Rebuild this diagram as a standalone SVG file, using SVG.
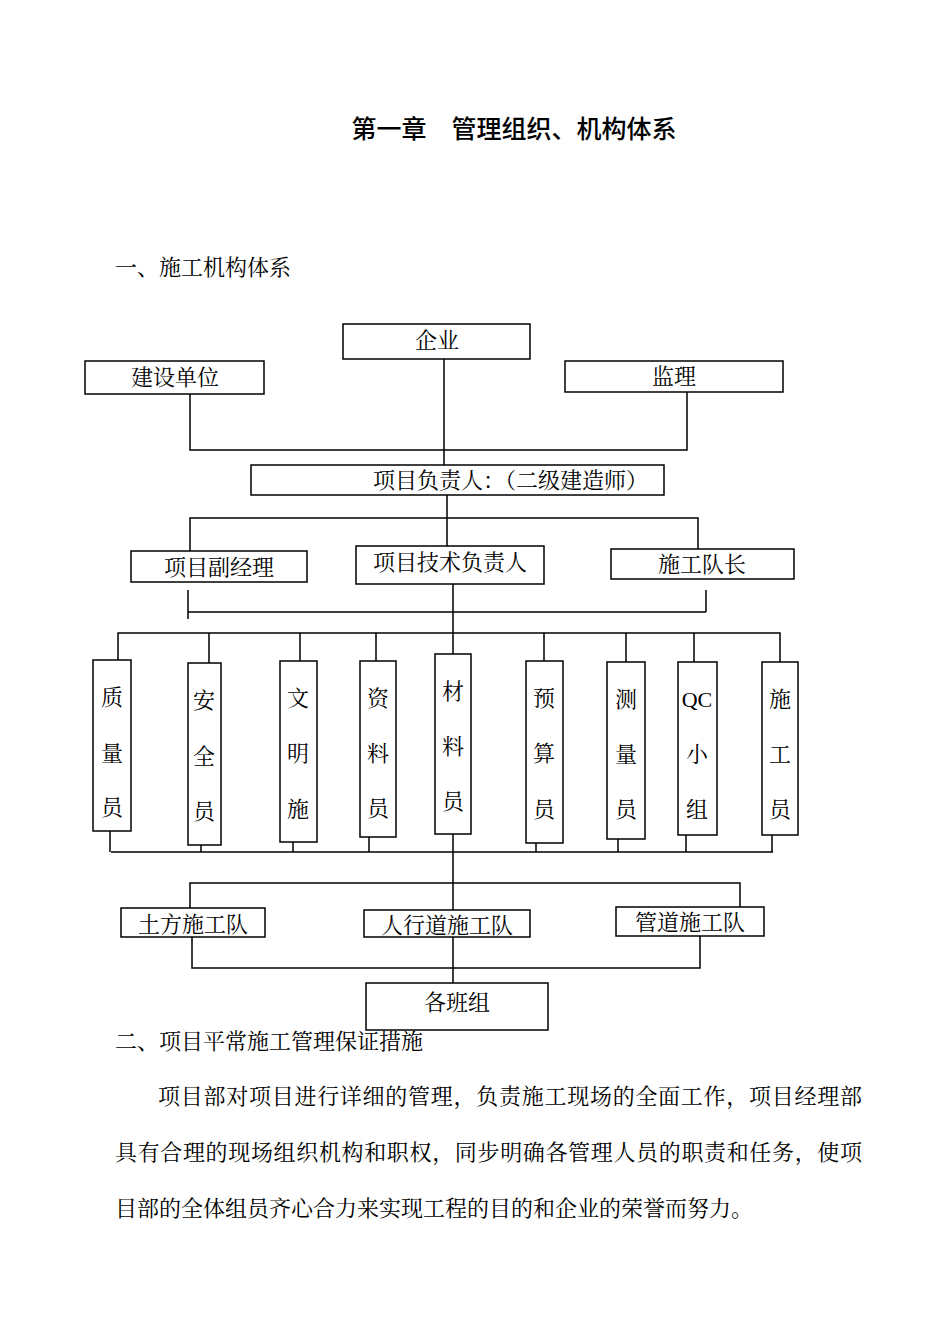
<svg xmlns="http://www.w3.org/2000/svg" width="950" height="1344" viewBox="0 0 950 1344">
<style>
text{font-family:"Liberation Serif","Noto Serif CJK SC","Noto Sans CJK SC",serif;font-size:22px;fill:#000}
.b{fill:#fff;stroke:#000;stroke-width:1.5}
.c{text-anchor:middle}
#conn path{fill:none;stroke:#000;stroke-width:1.5}
</style>
<rect width="950" height="1344" fill="#fff"/>
<text x="514" y="138" class="c" style="font-size:25px;font-family:'Noto Sans CJK SC',sans-serif;font-weight:500">第一章　管理组织、机构体系</text>
<text x="115" y="275">一、施工机构体系</text>
<g id="conn">
<path d="M444 359V465M190 394V450H687V392M447 495V548M190 553V518H698V549M188 590V619M188 612H706M706 590V612M453 584V633M118 660V633H780V662M209 663V633M300 661V633M376 661V633M453 633V654M544 661V633M626 662V633M694 662V633"/>
<path d="M110 831V852M201 845V852M293 842V852M369 837V852M536 843V852M618 839V852M686 835V852M772 835V852M111 852H773M453 834V983M190 908V883H740V907M192 937V968H700V936"/>
</g>
<g id="n1"><rect class="b" x="343" y="324" width="187" height="35"/><text class="c" x="437" y="348">企业</text></g>
<g id="n2"><rect class="b" x="85" y="361" width="179" height="33"/><text class="c" x="175" y="385">建设单位</text></g>
<g id="n3"><rect class="b" x="565" y="361" width="218" height="31"/><text class="c" x="674" y="384">监理</text></g>
<g id="n4"><rect class="b" x="251" y="465" width="413" height="30"/><text x="373" y="488">项目负责人：（二级建造师）</text></g>
<g id="n5"><rect class="b" x="131" y="551" width="176" height="31"/><text class="c" x="219" y="575">项目副经理</text></g>
<g id="n6"><rect class="b" x="356" y="546" width="188" height="38"/><text class="c" x="450" y="570">项目技术负责人</text></g>
<g id="n7"><rect class="b" x="611" y="549" width="183" height="30"/><text class="c" x="702" y="572">施工队长</text></g>
<g id="v1"><rect class="b" x="93" y="660" width="38" height="171"/><text class="c" x="112" y="705">质</text><text class="c" x="112" y="761">量</text><text class="c" x="112" y="815">员</text></g>
<g id="v2"><rect class="b" x="188" y="663" width="33" height="182"/><text class="c" x="204" y="708">安</text><text class="c" x="204" y="764">全</text><text class="c" x="204" y="819">员</text></g>
<g id="v3"><rect class="b" x="280" y="661" width="37" height="181"/><text class="c" x="298" y="706">文</text><text class="c" x="298" y="761">明</text><text class="c" x="298" y="817">施</text></g>
<g id="v4"><rect class="b" x="360" y="661" width="36" height="176"/><text class="c" x="378" y="706">资</text><text class="c" x="378" y="761">料</text><text class="c" x="378" y="816">员</text></g>
<g id="v5"><rect class="b" x="435" y="654" width="36" height="180"/><text class="c" x="453" y="699">材</text><text class="c" x="453" y="754">料</text><text class="c" x="453" y="809">员</text></g>
<g id="v6"><rect class="b" x="526" y="661" width="37" height="182"/><text class="c" x="544" y="706">预</text><text class="c" x="544" y="761">算</text><text class="c" x="544" y="817">员</text></g>
<g id="v7"><rect class="b" x="607" y="662" width="38" height="177"/><text class="c" x="626" y="707">测</text><text class="c" x="626" y="762">量</text><text class="c" x="626" y="817">员</text></g>
<g id="v8"><rect class="b" x="678" y="662" width="39" height="173"/><text class="c" x="697" y="707">QC</text><text class="c" x="697" y="762">小</text><text class="c" x="697" y="817">组</text></g>
<g id="v9"><rect class="b" x="762" y="662" width="36" height="173"/><text class="c" x="780" y="707">施</text><text class="c" x="780" y="762">工</text><text class="c" x="780" y="817">员</text></g>
<g id="n8"><rect class="b" x="121" y="908" width="144" height="29"/><text class="c" x="193" y="932">土方施工队</text></g>
<g id="n9"><rect class="b" x="364" y="910" width="166" height="27"/><text class="c" x="447" y="933">人行道施工队</text></g>
<g id="n10"><rect class="b" x="616" y="907" width="148" height="29"/><text class="c" x="690" y="930">管道施工队</text></g>
<g id="n11"><rect class="b" x="366" y="983" width="182" height="47"/><text class="c" x="457" y="1010">各班组</text></g>
<text x="115" y="1049">二、项目平常施工管理保证措施</text>
<text x="158" y="1104" textLength="704" lengthAdjust="spacing">项目部对项目进行详细的管理，负责施工现场的全面工作，项目经理部</text>
<text x="115" y="1160" textLength="747" lengthAdjust="spacing">具有合理的现场组织机构和职权，同步明确各管理人员的职责和任务，使项</text>
<text x="115" y="1216">目部的全体组员齐心合力来实现工程的目的和企业的荣誉而努力。</text>
</svg>
